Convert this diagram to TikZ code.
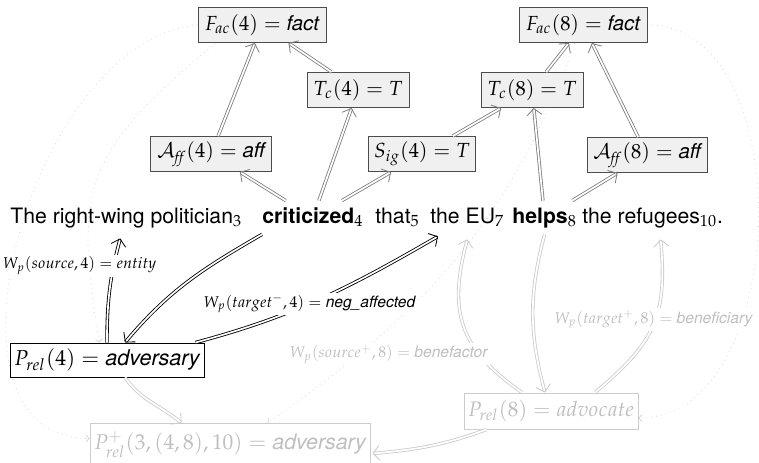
\documentclass[tikz,border=0pt]{standalone}
\usepackage{mathpazo}
\usepackage[no-math]{fontspec}
\setsansfont{TeX Gyre Heros}
\usetikzlibrary{arrows.meta,calc}
\pgfdeclarelayer{background}
\pgfsetlayers{background,main}
\newcommand{\sfi}[1]{\mbox{\sffamily\itshape #1}}
\begin{document}
\begin{tikzpicture}[x=0.5pt,y=-0.5pt,
  topbox/.style={draw=black!70, fill=black!6, line width=0.5pt, inner sep=0pt, minimum height=17.5pt, font=\fontsize{10.2}{12}\selectfont},
  word/.style={anchor=base west, inner xsep=0pt, inner ysep=3pt, text height=8pt, text depth=2.5pt, font=\sffamily\fontsize{10.6}{13}\selectfont},
  gedge/.style={draw=black!50, double=white, double distance=0.85pt, line width=0.42pt, -{Straight Barb[length=3.3pt,width=7.5pt]}},
  bedge/.style={gedge, draw=black},
  fedge/.style={gedge, draw=black!20},
  dots/.style={draw=black!16, dotted, line width=0.4pt, -{Straight Barb[length=1.5pt,width=3.5pt]}},
  lbl/.style={fill=white, inner sep=1pt, font=\fontsize{7.8}{10}\selectfont},
  flbl/.style={lbl, text=black!25},
  relbox/.style={draw=black, fill=white, line width=0.5pt, inner sep=0pt, font=\fontsize{10.8}{13}\selectfont},
  frelbox/.style={relbox, draw=black!20, text=black!25}
]
\useasboundingbox (0,0) rectangle (759,462);

% top boxes
\node[topbox, minimum width=64pt] (fac4) at (262,25) {$F_{ac}(4)=\sfi{fact}$};
\node[topbox, minimum width=51pt] (tc4) at (358,90) {$T_c(4)=T$};
\node[topbox, minimum width=60.5pt] (aff4) at (211,154) {$\mathcal{A}_{\mathit{ff}}(4)=\sfi{aff}$};
\node[topbox, minimum width=53.5pt] (sig4) at (422,154) {$S_{ig}(4)=T$};
\node[topbox, minimum width=64pt] (fac8) at (583,25) {$F_{ac}(8)=\sfi{fact}$};
\node[topbox, minimum width=51pt] (tc8) at (532,90) {$T_c(8)=T$};
\node[topbox, minimum width=60pt] (aff8) at (647,155) {$\mathcal{A}_{\mathit{ff}}(8)=\sfi{aff}$};

% sentence
\node[word] (w3) at (10,223) {The right-wing politician$_3$};
\node[word] (w4) at (262,223) {\textbf{criticized}$_4$};
\node[word] (w5) at (375,223) {that$_5$};
\node[word] (w7) at (430,223) {the EU$_7$};
\node[word] (w8) at (512,223) {\textbf{helps}$_8$};
\node[word] (w10) at (582,223) {the refugees$_{10}$.};

% lower boxes
\node[relbox, minimum width=97pt, minimum height=17pt] (prel4) at (107,360) {$P_{rel}(4)=\sfi{adversary}$};
\node[frelbox, minimum width=87pt, minimum height=18pt, font=\fontsize{10.5}{13}\selectfont] (prel8) at (551,411) {$P_{rel}(8)=advocate$};
\node[frelbox, anchor=north, minimum width=140pt, minimum height=21pt, font=\fontsize{10.7}{13}\selectfont] (pplus) at (230,423) {$P^{+}_{rel}(3,(4,8),10)=\sfi{adversary}$};

% dotted arcs
\begin{pgfonlayer}{background}
\draw[dots] ($(fac4.south west)+(18,0)$) to[out=220,in=100,looseness=1.3] ($(prel4.north west)+(90,0)$);
\draw[dots] (fac4.west) to[out=185,in=180] ($(pplus.west)+(0,-6)$);
\draw[dots] (fac8.east) to[out=0,in=0] ($(prel8.east)+(0,7)$);
\draw[dots] ($(fac8.south)+(-8,0)$) to[out=250,in=35] ($(pplus.north east)+(-103,0)$);
\end{pgfonlayer}

% top edges
\draw[gedge] (aff4) -- (fac4);
\draw[gedge] (tc4) -- (fac4);
\draw[gedge] (w4) -- (aff4);
\draw[gedge] (w4) -- (tc4);
\draw[gedge] (w4) -- (sig4);
\draw[gedge] (sig4) -- (tc8);
\draw[gedge] (w8) -- (tc8);
\draw[gedge] (tc8) -- (fac8);
\draw[gedge] (aff8) -- (fac8);
\draw[gedge] (w8) -- (aff8);

% black edges
\draw[bedge] (w4.south west) to[out=210,in=50] ($(prel4.north)+(18,0)$);
\draw[bedge] (prel4.north) to[out=90,in=-105] node[lbl,pos=0.75,xshift=-17pt] {$W_p(source,4)=entity$} ($(w3.south)+(-6,4)$);
\draw[bedge] ($(prel4.north east)+(-9,0)$) to[out=15,in=210] node[lbl,pos=0.45] {$W_p(target^{-},4)=\sfi{neg\_affected}$} ($(w7.south west)+(8,2)$);

% faded edges
\draw[fedge] ($(prel8.north)+(-29,0)$) to[out=145,in=-105,looseness=1.2] node[flbl,pos=0.3,anchor=east,xshift=5.5pt] {$W_p(source^{+},8)=\sfi{benefactor}$} ($(w7.south)+(0,5)$);
\draw[fedge] (w8.south) to[out=-105,in=105] ($(prel8.north)+(-6,0)$);
\draw[fedge] ($(prel8.north)+(44,0)$) to[out=40,in=-85,looseness=1.2] node[flbl,pos=0.55,xshift=-1pt] {$W_p(target^{+},8)=\sfi{beneficiary}$} ($(w10.south)+(8,5)$);
\draw[fedge] ($(prel8.south west)+(23,0)$) to[out=200,in=5] ($(pplus.east)+(2,9)$);
\draw[fedge] ($(prel4.south)+(18,0)$) to[out=-55,in=140] ($(pplus.north west)+(92,0)$);
\end{tikzpicture}
\end{document}
